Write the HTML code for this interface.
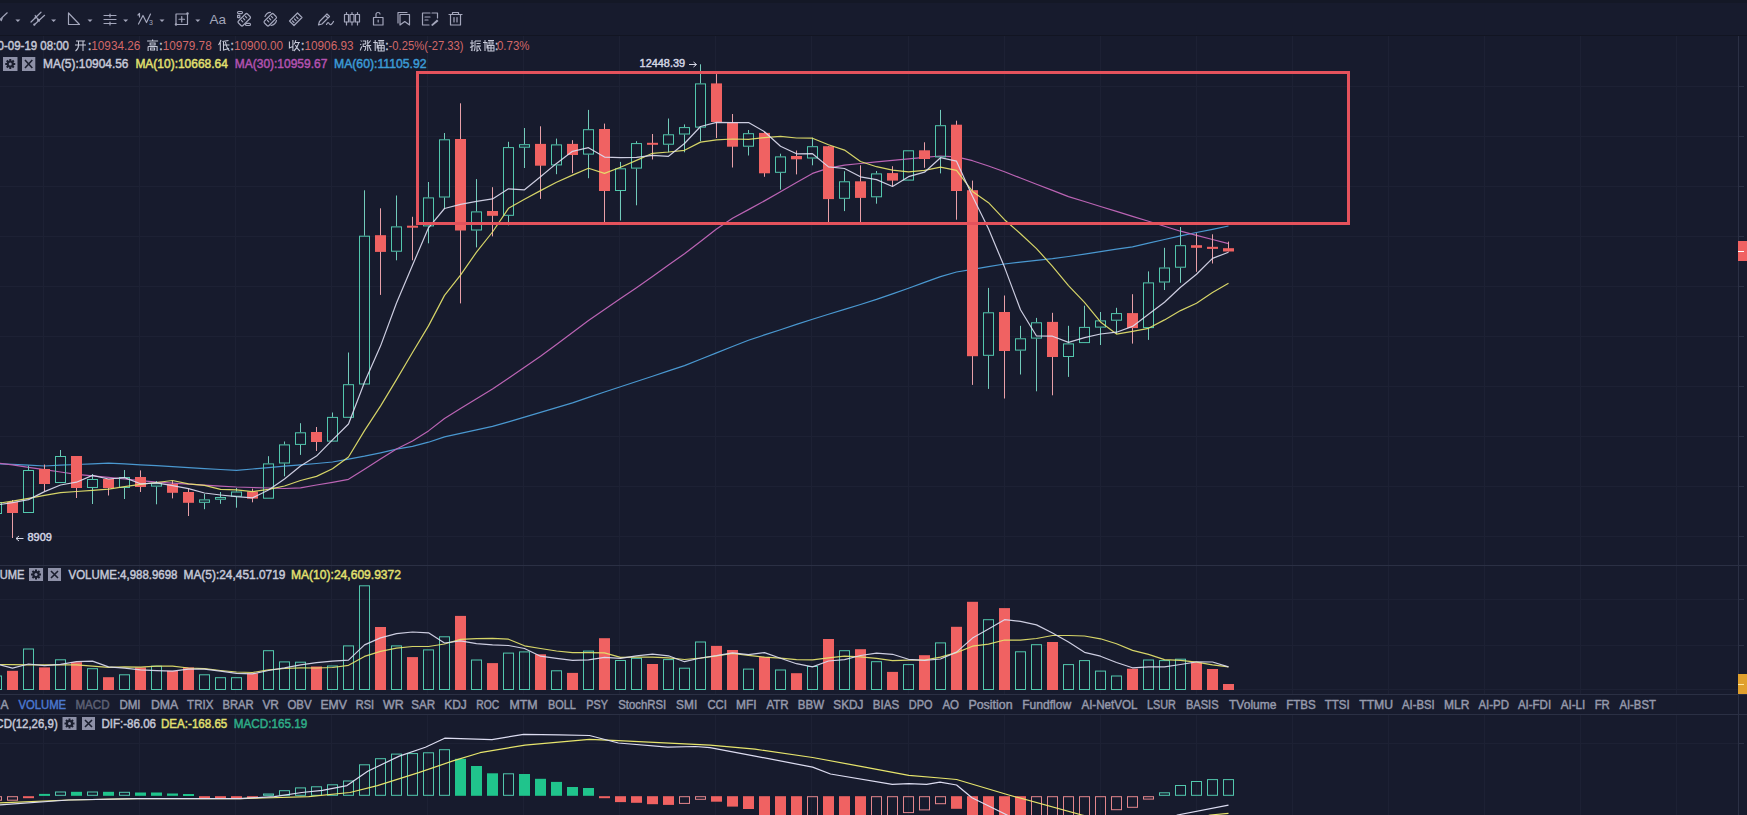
<!DOCTYPE html>
<html><head><meta charset="utf-8"><style>
html,body{margin:0;padding:0;background:#171b2d;}
body{width:1747px;height:815px;overflow:hidden;position:relative;font-family:"Liberation Sans",sans-serif;}
.t{position:absolute;white-space:nowrap;font-size:12px;line-height:14px;}
</style></head><body>
<svg width="1747" height="815" viewBox="0 0 1747 815" style="position:absolute;left:0;top:0">
<rect width="1747" height="815" fill="#171b2d"/>
<rect x="0" y="0" width="1747" height="3" fill="#141826"/>
<rect x="0" y="35" width="1747" height="1" fill="#121522"/>
<line x1="43.5" y1="36" x2="43.5" y2="694" stroke="#1d2134" stroke-width="1"/>
<line x1="43.5" y1="714" x2="43.5" y2="815" stroke="#1d2134" stroke-width="1"/>
<line x1="139.5" y1="36" x2="139.5" y2="694" stroke="#1d2134" stroke-width="1"/>
<line x1="139.5" y1="714" x2="139.5" y2="815" stroke="#1d2134" stroke-width="1"/>
<line x1="235.5" y1="36" x2="235.5" y2="694" stroke="#1d2134" stroke-width="1"/>
<line x1="235.5" y1="714" x2="235.5" y2="815" stroke="#1d2134" stroke-width="1"/>
<line x1="331.5" y1="36" x2="331.5" y2="694" stroke="#1d2134" stroke-width="1"/>
<line x1="331.5" y1="714" x2="331.5" y2="815" stroke="#1d2134" stroke-width="1"/>
<line x1="427.5" y1="36" x2="427.5" y2="694" stroke="#1d2134" stroke-width="1"/>
<line x1="427.5" y1="714" x2="427.5" y2="815" stroke="#1d2134" stroke-width="1"/>
<line x1="523.5" y1="36" x2="523.5" y2="694" stroke="#1d2134" stroke-width="1"/>
<line x1="523.5" y1="714" x2="523.5" y2="815" stroke="#1d2134" stroke-width="1"/>
<line x1="619.5" y1="36" x2="619.5" y2="694" stroke="#1d2134" stroke-width="1"/>
<line x1="619.5" y1="714" x2="619.5" y2="815" stroke="#1d2134" stroke-width="1"/>
<line x1="715.5" y1="36" x2="715.5" y2="694" stroke="#1d2134" stroke-width="1"/>
<line x1="715.5" y1="714" x2="715.5" y2="815" stroke="#1d2134" stroke-width="1"/>
<line x1="811.5" y1="36" x2="811.5" y2="694" stroke="#1d2134" stroke-width="1"/>
<line x1="811.5" y1="714" x2="811.5" y2="815" stroke="#1d2134" stroke-width="1"/>
<line x1="908.5" y1="36" x2="908.5" y2="694" stroke="#1d2134" stroke-width="1"/>
<line x1="908.5" y1="714" x2="908.5" y2="815" stroke="#1d2134" stroke-width="1"/>
<line x1="1004.5" y1="36" x2="1004.5" y2="694" stroke="#1d2134" stroke-width="1"/>
<line x1="1004.5" y1="714" x2="1004.5" y2="815" stroke="#1d2134" stroke-width="1"/>
<line x1="1100.5" y1="36" x2="1100.5" y2="694" stroke="#1d2134" stroke-width="1"/>
<line x1="1100.5" y1="714" x2="1100.5" y2="815" stroke="#1d2134" stroke-width="1"/>
<line x1="1196.5" y1="36" x2="1196.5" y2="694" stroke="#1d2134" stroke-width="1"/>
<line x1="1196.5" y1="714" x2="1196.5" y2="815" stroke="#1d2134" stroke-width="1"/>
<line x1="1292.5" y1="36" x2="1292.5" y2="694" stroke="#1d2134" stroke-width="1"/>
<line x1="1292.5" y1="714" x2="1292.5" y2="815" stroke="#1d2134" stroke-width="1"/>
<line x1="1388.5" y1="36" x2="1388.5" y2="694" stroke="#1d2134" stroke-width="1"/>
<line x1="1388.5" y1="714" x2="1388.5" y2="815" stroke="#1d2134" stroke-width="1"/>
<line x1="1484.5" y1="36" x2="1484.5" y2="694" stroke="#1d2134" stroke-width="1"/>
<line x1="1484.5" y1="714" x2="1484.5" y2="815" stroke="#1d2134" stroke-width="1"/>
<line x1="1580.5" y1="36" x2="1580.5" y2="694" stroke="#1d2134" stroke-width="1"/>
<line x1="1580.5" y1="714" x2="1580.5" y2="815" stroke="#1d2134" stroke-width="1"/>
<line x1="1676.5" y1="36" x2="1676.5" y2="694" stroke="#1d2134" stroke-width="1"/>
<line x1="1676.5" y1="714" x2="1676.5" y2="815" stroke="#1d2134" stroke-width="1"/>
<line x1="0" y1="86.5" x2="1738" y2="86.5" stroke="#1d2134" stroke-width="1"/>
<line x1="0" y1="136.5" x2="1738" y2="136.5" stroke="#1d2134" stroke-width="1"/>
<line x1="0" y1="186.5" x2="1738" y2="186.5" stroke="#1d2134" stroke-width="1"/>
<line x1="0" y1="236.5" x2="1738" y2="236.5" stroke="#1d2134" stroke-width="1"/>
<line x1="0" y1="286.5" x2="1738" y2="286.5" stroke="#1d2134" stroke-width="1"/>
<line x1="0" y1="336.5" x2="1738" y2="336.5" stroke="#1d2134" stroke-width="1"/>
<line x1="0" y1="386.5" x2="1738" y2="386.5" stroke="#1d2134" stroke-width="1"/>
<line x1="0" y1="436.5" x2="1738" y2="436.5" stroke="#1d2134" stroke-width="1"/>
<line x1="0" y1="486.5" x2="1738" y2="486.5" stroke="#1d2134" stroke-width="1"/>
<line x1="0" y1="536.5" x2="1738" y2="536.5" stroke="#1d2134" stroke-width="1"/>
<line x1="0" y1="599.5" x2="1738" y2="599.5" stroke="#1d2134" stroke-width="1"/>
<line x1="0" y1="645.5" x2="1738" y2="645.5" stroke="#1d2134" stroke-width="1"/>
<line x1="0" y1="689.5" x2="1738" y2="689.5" stroke="#1d2134" stroke-width="1"/>
<line x1="0" y1="743.5" x2="1738" y2="743.5" stroke="#1d2134" stroke-width="1"/>
<line x1="0" y1="565.5" x2="1747" y2="565.5" stroke="#2b3044" stroke-width="1"/>
<line x1="0" y1="694.5" x2="1747" y2="694.5" stroke="#2b3044" stroke-width="1"/>
<line x1="0" y1="714.5" x2="1747" y2="714.5" stroke="#2b3044" stroke-width="1"/>
<line x1="1738.5" y1="36" x2="1738.5" y2="815" stroke="#2b3044" stroke-width="1"/>
<line x1="1738" y1="86.5" x2="1744" y2="86.5" stroke="#2b3044" stroke-width="1"/>
<line x1="1738" y1="136.5" x2="1744" y2="136.5" stroke="#2b3044" stroke-width="1"/>
<line x1="1738" y1="186.5" x2="1744" y2="186.5" stroke="#2b3044" stroke-width="1"/>
<line x1="1738" y1="236.5" x2="1744" y2="236.5" stroke="#2b3044" stroke-width="1"/>
<line x1="1738" y1="286.5" x2="1744" y2="286.5" stroke="#2b3044" stroke-width="1"/>
<line x1="1738" y1="336.5" x2="1744" y2="336.5" stroke="#2b3044" stroke-width="1"/>
<line x1="1738" y1="386.5" x2="1744" y2="386.5" stroke="#2b3044" stroke-width="1"/>
<line x1="1738" y1="436.5" x2="1744" y2="436.5" stroke="#2b3044" stroke-width="1"/>
<line x1="1738" y1="486.5" x2="1744" y2="486.5" stroke="#2b3044" stroke-width="1"/>
<line x1="1738" y1="536.5" x2="1744" y2="536.5" stroke="#2b3044" stroke-width="1"/>
<line x1="1738" y1="599.5" x2="1744" y2="599.5" stroke="#2b3044" stroke-width="1"/>
<line x1="1738" y1="645.5" x2="1744" y2="645.5" stroke="#2b3044" stroke-width="1"/>
<line x1="1738" y1="743.5" x2="1744" y2="743.5" stroke="#2b3044" stroke-width="1"/>
<defs><clipPath id="cm"><rect x="0" y="36" width="1738" height="529"/></clipPath><clipPath id="cv"><rect x="0" y="566" width="1738" height="128"/></clipPath><clipPath id="cd"><rect x="0" y="715" width="1738" height="100"/></clipPath></defs>
<g clip-path="url(#cm)">
<polyline points="-3.5,463.7 12.5,464.4 28.5,465.2 44.5,466.0 60.5,465.2 76.5,464.5 92.5,463.8 108.5,463.1 124.5,463.9 140.5,464.8 156.5,465.7 172.5,466.7 188.5,467.6 204.5,468.6 220.5,469.5 236.5,470.3 252.5,469.0 268.5,467.6 284.5,466.2 300.5,464.9 316.5,463.5 332.5,462.0 348.5,459.1 364.5,456.2 380.5,452.8 396.5,449.2 412.5,446.3 428.5,442.2 444.5,436.9 460.5,433.3 476.5,429.8 492.5,426.3 508.5,421.8 524.5,417.1 540.5,412.4 556.5,407.7 572.5,402.9 588.5,397.4 604.5,392.0 620.5,386.8 636.5,381.5 652.5,376.2 668.5,370.9 684.5,365.6 700.5,359.2 716.5,352.9 732.5,346.5 748.5,340.2 764.5,334.9 780.5,329.7 796.5,324.4 812.5,319.2 828.5,314.3 844.5,309.4 860.5,304.5 876.5,299.4 892.5,293.9 908.5,288.2 924.5,282.4 940.5,276.6 956.5,272.0 972.5,269.3 988.5,266.7 1004.5,264.0 1020.5,262.1 1036.5,260.3 1052.5,258.6 1068.5,256.5 1084.5,254.1 1100.5,251.6 1116.5,249.2 1132.5,246.8 1148.5,243.2 1164.5,239.5 1180.5,235.8 1196.5,232.5 1212.5,229.3 1228.5,226.0" fill="none" stroke="#4a98d0" stroke-width="1.2" stroke-opacity="1" stroke-linejoin="round"/>
<polyline points="-3.5,463.0 12.5,464.9 28.5,467.3 44.5,469.7 60.5,472.0 76.5,474.3 92.5,475.9 108.5,477.4 124.5,479.0 140.5,480.6 156.5,482.1 172.5,483.1 188.5,484.1 204.5,485.1 220.5,486.1 236.5,487.0 252.5,487.5 268.5,488.0 284.5,488.5 300.5,487.8 316.5,485.0 332.5,482.3 348.5,479.3 364.5,469.2 380.5,459.1 396.5,449.0 412.5,441.0 428.5,430.9 444.5,418.5 460.5,408.6 476.5,398.7 492.5,388.9 508.5,378.2 524.5,367.2 540.5,356.3 556.5,344.5 572.5,332.5 588.5,320.5 604.5,309.6 620.5,298.6 636.5,287.7 652.5,276.4 668.5,265.0 684.5,253.7 700.5,241.4 716.5,229.0 732.5,218.3 748.5,209.6 764.5,200.9 780.5,191.8 796.5,182.6 812.5,173.4 828.5,168.1 844.5,165.1 860.5,163.5 876.5,161.9 892.5,160.3 908.5,158.8 924.5,157.3 940.5,156.0 956.5,156.8 972.5,160.7 988.5,166.0 1004.5,171.8 1020.5,178.0 1036.5,184.2 1052.5,190.4 1068.5,196.6 1084.5,201.5 1100.5,206.5 1116.5,211.4 1132.5,216.4 1148.5,221.3 1164.5,226.3 1180.5,231.2 1196.5,235.3 1212.5,239.5 1228.5,243.6" fill="none" stroke="#bb64b4" stroke-width="1.2" stroke-opacity="1" stroke-linejoin="round"/>
<rect x="-8.5" y="502.5" width="10" height="11.0" fill="none" stroke="#52c7ad" stroke-width="1"/>
<line x1="12.5" y1="500.0" x2="12.5" y2="538.0" stroke="#e8a0a8" stroke-width="1"/>
<rect x="7.0" y="502.0" width="11" height="11.0" fill="#f06262"/>
<line x1="28.5" y1="465.7" x2="28.5" y2="470.0" stroke="#72cbbb" stroke-width="1"/>
<rect x="23.5" y="470.5" width="10" height="42.0" fill="none" stroke="#52c7ad" stroke-width="1"/>
<line x1="44.5" y1="464.5" x2="44.5" y2="491.0" stroke="#e8a0a8" stroke-width="1"/>
<rect x="39.0" y="469.0" width="11" height="15.0" fill="#f06262"/>
<line x1="60.5" y1="450.0" x2="60.5" y2="456.0" stroke="#72cbbb" stroke-width="1"/>
<rect x="55.5" y="456.5" width="10" height="26.0" fill="none" stroke="#52c7ad" stroke-width="1"/>
<line x1="76.5" y1="456.0" x2="76.5" y2="498.0" stroke="#e8a0a8" stroke-width="1"/>
<rect x="71.0" y="456.0" width="11" height="32.0" fill="#f06262"/>
<line x1="92.5" y1="474.0" x2="92.5" y2="479.0" stroke="#72cbbb" stroke-width="1"/>
<line x1="92.5" y1="488.0" x2="92.5" y2="504.0" stroke="#72cbbb" stroke-width="1"/>
<rect x="87.5" y="479.5" width="10" height="8.0" fill="none" stroke="#52c7ad" stroke-width="1"/>
<line x1="108.5" y1="479.0" x2="108.5" y2="495.5" stroke="#e8a0a8" stroke-width="1"/>
<rect x="103.0" y="479.0" width="11" height="9.0" fill="#f06262"/>
<line x1="124.5" y1="470.0" x2="124.5" y2="477.0" stroke="#72cbbb" stroke-width="1"/>
<line x1="124.5" y1="488.0" x2="124.5" y2="499.0" stroke="#72cbbb" stroke-width="1"/>
<rect x="119.5" y="477.5" width="10" height="10.0" fill="none" stroke="#52c7ad" stroke-width="1"/>
<line x1="140.5" y1="470.4" x2="140.5" y2="492.0" stroke="#e8a0a8" stroke-width="1"/>
<rect x="135.0" y="477.0" width="11" height="10.0" fill="#f06262"/>
<line x1="156.5" y1="481.0" x2="156.5" y2="483.2" stroke="#72cbbb" stroke-width="1"/>
<line x1="156.5" y1="486.6" x2="156.5" y2="504.3" stroke="#72cbbb" stroke-width="1"/>
<rect x="151.5" y="483.7" width="10" height="2.4" fill="none" stroke="#52c7ad" stroke-width="1"/>
<line x1="172.5" y1="481.0" x2="172.5" y2="498.4" stroke="#e8a0a8" stroke-width="1"/>
<rect x="167.0" y="484.0" width="11" height="8.8" fill="#f06262"/>
<line x1="188.5" y1="488.6" x2="188.5" y2="516.0" stroke="#e8a0a8" stroke-width="1"/>
<rect x="183.0" y="492.0" width="11" height="10.8" fill="#f06262"/>
<line x1="204.5" y1="494.0" x2="204.5" y2="499.4" stroke="#72cbbb" stroke-width="1"/>
<line x1="204.5" y1="502.8" x2="204.5" y2="509.2" stroke="#72cbbb" stroke-width="1"/>
<rect x="199.5" y="499.9" width="10" height="2.4" fill="none" stroke="#52c7ad" stroke-width="1"/>
<line x1="220.5" y1="492.0" x2="220.5" y2="497.0" stroke="#72cbbb" stroke-width="1"/>
<line x1="220.5" y1="499.7" x2="220.5" y2="503.8" stroke="#72cbbb" stroke-width="1"/>
<rect x="215.5" y="497.5" width="10" height="1.7" fill="none" stroke="#52c7ad" stroke-width="1"/>
<line x1="236.5" y1="488.0" x2="236.5" y2="491.5" stroke="#72cbbb" stroke-width="1"/>
<line x1="236.5" y1="496.7" x2="236.5" y2="507.7" stroke="#72cbbb" stroke-width="1"/>
<rect x="231.5" y="492.0" width="10" height="4.2" fill="none" stroke="#52c7ad" stroke-width="1"/>
<line x1="252.5" y1="488.6" x2="252.5" y2="502.3" stroke="#e8a0a8" stroke-width="1"/>
<rect x="247.0" y="491.5" width="11" height="7.1" fill="#f06262"/>
<line x1="268.5" y1="456.2" x2="268.5" y2="463.4" stroke="#72cbbb" stroke-width="1"/>
<rect x="263.5" y="463.9" width="10" height="34.3" fill="none" stroke="#52c7ad" stroke-width="1"/>
<line x1="284.5" y1="441.5" x2="284.5" y2="444.4" stroke="#72cbbb" stroke-width="1"/>
<line x1="284.5" y1="463.5" x2="284.5" y2="476.3" stroke="#72cbbb" stroke-width="1"/>
<rect x="279.5" y="444.9" width="10" height="18.1" fill="none" stroke="#52c7ad" stroke-width="1"/>
<line x1="300.5" y1="423.2" x2="300.5" y2="432.3" stroke="#72cbbb" stroke-width="1"/>
<line x1="300.5" y1="444.9" x2="300.5" y2="454.9" stroke="#72cbbb" stroke-width="1"/>
<rect x="295.5" y="432.8" width="10" height="11.6" fill="none" stroke="#52c7ad" stroke-width="1"/>
<line x1="316.5" y1="427.0" x2="316.5" y2="451.0" stroke="#e8a0a8" stroke-width="1"/>
<rect x="311.0" y="432.0" width="11" height="10.0" fill="#f06262"/>
<line x1="332.5" y1="412.5" x2="332.5" y2="416.9" stroke="#72cbbb" stroke-width="1"/>
<rect x="327.5" y="417.4" width="10" height="23.7" fill="none" stroke="#52c7ad" stroke-width="1"/>
<line x1="348.5" y1="352.5" x2="348.5" y2="384.2" stroke="#72cbbb" stroke-width="1"/>
<rect x="343.5" y="384.7" width="10" height="32.6" fill="none" stroke="#52c7ad" stroke-width="1"/>
<line x1="364.5" y1="190.3" x2="364.5" y2="235.7" stroke="#72cbbb" stroke-width="1"/>
<rect x="359.5" y="236.2" width="10" height="147.8" fill="none" stroke="#52c7ad" stroke-width="1"/>
<line x1="380.5" y1="208.3" x2="380.5" y2="294.9" stroke="#e8a0a8" stroke-width="1"/>
<rect x="375.0" y="235.2" width="11" height="16.7" fill="#f06262"/>
<line x1="396.5" y1="195.5" x2="396.5" y2="226.4" stroke="#72cbbb" stroke-width="1"/>
<line x1="396.5" y1="251.7" x2="396.5" y2="260.3" stroke="#72cbbb" stroke-width="1"/>
<rect x="391.5" y="226.9" width="10" height="24.3" fill="none" stroke="#52c7ad" stroke-width="1"/>
<line x1="412.5" y1="216.8" x2="412.5" y2="260.3" stroke="#e8a0a8" stroke-width="1"/>
<rect x="407.0" y="225.7" width="11" height="2.0" fill="#f06262"/>
<line x1="428.5" y1="182.0" x2="428.5" y2="197.4" stroke="#72cbbb" stroke-width="1"/>
<line x1="428.5" y1="226.4" x2="428.5" y2="243.3" stroke="#72cbbb" stroke-width="1"/>
<rect x="423.5" y="197.9" width="10" height="28.0" fill="none" stroke="#52c7ad" stroke-width="1"/>
<line x1="444.5" y1="133.0" x2="444.5" y2="139.3" stroke="#72cbbb" stroke-width="1"/>
<line x1="444.5" y1="197.5" x2="444.5" y2="209.0" stroke="#72cbbb" stroke-width="1"/>
<rect x="439.5" y="139.8" width="10" height="57.2" fill="none" stroke="#52c7ad" stroke-width="1"/>
<line x1="460.5" y1="103.3" x2="460.5" y2="303.4" stroke="#e8a0a8" stroke-width="1"/>
<rect x="455.0" y="139.0" width="11" height="91.5" fill="#f06262"/>
<line x1="476.5" y1="179.1" x2="476.5" y2="211.4" stroke="#72cbbb" stroke-width="1"/>
<line x1="476.5" y1="230.5" x2="476.5" y2="247.4" stroke="#72cbbb" stroke-width="1"/>
<rect x="471.5" y="211.9" width="10" height="18.1" fill="none" stroke="#52c7ad" stroke-width="1"/>
<line x1="492.5" y1="187.2" x2="492.5" y2="236.4" stroke="#e8a0a8" stroke-width="1"/>
<rect x="487.0" y="211.0" width="11" height="4.8" fill="#f06262"/>
<line x1="508.5" y1="141.8" x2="508.5" y2="147.1" stroke="#72cbbb" stroke-width="1"/>
<line x1="508.5" y1="215.8" x2="508.5" y2="225.3" stroke="#72cbbb" stroke-width="1"/>
<rect x="503.5" y="147.6" width="10" height="67.7" fill="none" stroke="#52c7ad" stroke-width="1"/>
<line x1="524.5" y1="128.0" x2="524.5" y2="144.2" stroke="#72cbbb" stroke-width="1"/>
<line x1="524.5" y1="147.7" x2="524.5" y2="168.0" stroke="#72cbbb" stroke-width="1"/>
<rect x="519.5" y="144.7" width="10" height="2.5" fill="none" stroke="#52c7ad" stroke-width="1"/>
<line x1="540.5" y1="126.3" x2="540.5" y2="198.9" stroke="#e8a0a8" stroke-width="1"/>
<rect x="535.0" y="143.9" width="11" height="21.8" fill="#f06262"/>
<line x1="556.5" y1="138.6" x2="556.5" y2="144.4" stroke="#72cbbb" stroke-width="1"/>
<line x1="556.5" y1="165.4" x2="556.5" y2="174.2" stroke="#72cbbb" stroke-width="1"/>
<rect x="551.5" y="144.9" width="10" height="20.0" fill="none" stroke="#52c7ad" stroke-width="1"/>
<line x1="572.5" y1="140.2" x2="572.5" y2="173.1" stroke="#e8a0a8" stroke-width="1"/>
<rect x="567.0" y="143.9" width="11" height="11.1" fill="#f06262"/>
<line x1="588.5" y1="109.9" x2="588.5" y2="129.2" stroke="#72cbbb" stroke-width="1"/>
<line x1="588.5" y1="154.6" x2="588.5" y2="178.2" stroke="#72cbbb" stroke-width="1"/>
<rect x="583.5" y="129.7" width="10" height="24.4" fill="none" stroke="#52c7ad" stroke-width="1"/>
<line x1="604.5" y1="123.6" x2="604.5" y2="222.0" stroke="#e8a0a8" stroke-width="1"/>
<rect x="599.0" y="129.0" width="11" height="62.0" fill="#f06262"/>
<line x1="620.5" y1="161.9" x2="620.5" y2="168.3" stroke="#72cbbb" stroke-width="1"/>
<line x1="620.5" y1="191.0" x2="620.5" y2="220.5" stroke="#72cbbb" stroke-width="1"/>
<rect x="615.5" y="168.8" width="10" height="21.7" fill="none" stroke="#52c7ad" stroke-width="1"/>
<line x1="636.5" y1="141.2" x2="636.5" y2="143.1" stroke="#72cbbb" stroke-width="1"/>
<line x1="636.5" y1="168.6" x2="636.5" y2="205.3" stroke="#72cbbb" stroke-width="1"/>
<rect x="631.5" y="143.6" width="10" height="24.5" fill="none" stroke="#52c7ad" stroke-width="1"/>
<line x1="652.5" y1="134.0" x2="652.5" y2="159.5" stroke="#e8a0a8" stroke-width="1"/>
<rect x="647.0" y="142.8" width="11" height="2.0" fill="#f06262"/>
<line x1="668.5" y1="118.5" x2="668.5" y2="134.3" stroke="#72cbbb" stroke-width="1"/>
<line x1="668.5" y1="144.7" x2="668.5" y2="152.3" stroke="#72cbbb" stroke-width="1"/>
<rect x="663.5" y="134.8" width="10" height="9.4" fill="none" stroke="#52c7ad" stroke-width="1"/>
<line x1="684.5" y1="124.4" x2="684.5" y2="127.1" stroke="#72cbbb" stroke-width="1"/>
<line x1="684.5" y1="134.5" x2="684.5" y2="152.3" stroke="#72cbbb" stroke-width="1"/>
<rect x="679.5" y="127.6" width="10" height="6.4" fill="none" stroke="#52c7ad" stroke-width="1"/>
<line x1="700.5" y1="64.3" x2="700.5" y2="83.4" stroke="#72cbbb" stroke-width="1"/>
<line x1="700.5" y1="127.6" x2="700.5" y2="141.2" stroke="#72cbbb" stroke-width="1"/>
<rect x="695.5" y="83.9" width="10" height="43.2" fill="none" stroke="#52c7ad" stroke-width="1"/>
<line x1="716.5" y1="74.1" x2="716.5" y2="138.0" stroke="#e8a0a8" stroke-width="1"/>
<rect x="711.0" y="83.4" width="11" height="38.6" fill="#f06262"/>
<line x1="732.5" y1="114.0" x2="732.5" y2="167.5" stroke="#e8a0a8" stroke-width="1"/>
<rect x="727.0" y="122.8" width="11" height="23.9" fill="#f06262"/>
<line x1="748.5" y1="130.0" x2="748.5" y2="133.2" stroke="#72cbbb" stroke-width="1"/>
<line x1="748.5" y1="146.7" x2="748.5" y2="155.5" stroke="#72cbbb" stroke-width="1"/>
<rect x="743.5" y="133.7" width="10" height="12.5" fill="none" stroke="#52c7ad" stroke-width="1"/>
<line x1="764.5" y1="132.0" x2="764.5" y2="176.8" stroke="#e8a0a8" stroke-width="1"/>
<rect x="759.0" y="132.9" width="11" height="40.4" fill="#f06262"/>
<line x1="780.5" y1="153.7" x2="780.5" y2="156.4" stroke="#72cbbb" stroke-width="1"/>
<line x1="780.5" y1="172.8" x2="780.5" y2="189.6" stroke="#72cbbb" stroke-width="1"/>
<rect x="775.5" y="156.9" width="10" height="15.4" fill="none" stroke="#52c7ad" stroke-width="1"/>
<line x1="796.5" y1="150.5" x2="796.5" y2="174.4" stroke="#e8a0a8" stroke-width="1"/>
<rect x="791.0" y="156.0" width="11" height="3.3" fill="#f06262"/>
<line x1="812.5" y1="137.7" x2="812.5" y2="146.2" stroke="#72cbbb" stroke-width="1"/>
<line x1="812.5" y1="158.5" x2="812.5" y2="165.3" stroke="#72cbbb" stroke-width="1"/>
<rect x="807.5" y="146.7" width="10" height="11.3" fill="none" stroke="#52c7ad" stroke-width="1"/>
<line x1="828.5" y1="146.0" x2="828.5" y2="222.3" stroke="#e8a0a8" stroke-width="1"/>
<rect x="823.0" y="146.2" width="11" height="52.9" fill="#f06262"/>
<line x1="844.5" y1="171.2" x2="844.5" y2="181.3" stroke="#72cbbb" stroke-width="1"/>
<line x1="844.5" y1="198.8" x2="844.5" y2="211.1" stroke="#72cbbb" stroke-width="1"/>
<rect x="839.5" y="181.8" width="10" height="16.5" fill="none" stroke="#52c7ad" stroke-width="1"/>
<line x1="860.5" y1="165.3" x2="860.5" y2="222.3" stroke="#e8a0a8" stroke-width="1"/>
<rect x="855.0" y="181.3" width="11" height="16.6" fill="#f06262"/>
<line x1="876.5" y1="171.0" x2="876.5" y2="173.4" stroke="#72cbbb" stroke-width="1"/>
<line x1="876.5" y1="197.3" x2="876.5" y2="203.7" stroke="#72cbbb" stroke-width="1"/>
<rect x="871.5" y="173.9" width="10" height="22.9" fill="none" stroke="#52c7ad" stroke-width="1"/>
<line x1="892.5" y1="166.2" x2="892.5" y2="186.2" stroke="#e8a0a8" stroke-width="1"/>
<rect x="887.0" y="173.1" width="11" height="7.5" fill="#f06262"/>
<rect x="903.5" y="150.8" width="10" height="29.3" fill="none" stroke="#52c7ad" stroke-width="1"/>
<line x1="924.5" y1="142.3" x2="924.5" y2="167.8" stroke="#e8a0a8" stroke-width="1"/>
<rect x="919.0" y="150.3" width="11" height="8.7" fill="#f06262"/>
<line x1="940.5" y1="109.9" x2="940.5" y2="125.2" stroke="#72cbbb" stroke-width="1"/>
<line x1="940.5" y1="157.4" x2="940.5" y2="173.4" stroke="#72cbbb" stroke-width="1"/>
<rect x="935.5" y="125.7" width="10" height="31.2" fill="none" stroke="#52c7ad" stroke-width="1"/>
<line x1="956.5" y1="120.7" x2="956.5" y2="219.7" stroke="#e8a0a8" stroke-width="1"/>
<rect x="951.0" y="124.7" width="11" height="66.3" fill="#f06262"/>
<line x1="972.5" y1="180.6" x2="972.5" y2="384.9" stroke="#e8a0a8" stroke-width="1"/>
<rect x="967.0" y="190.2" width="11" height="166.0" fill="#f06262"/>
<line x1="988.5" y1="287.9" x2="988.5" y2="312.3" stroke="#72cbbb" stroke-width="1"/>
<line x1="988.5" y1="355.8" x2="988.5" y2="388.9" stroke="#72cbbb" stroke-width="1"/>
<rect x="983.5" y="312.8" width="10" height="42.5" fill="none" stroke="#52c7ad" stroke-width="1"/>
<line x1="1004.5" y1="295.5" x2="1004.5" y2="398.5" stroke="#e8a0a8" stroke-width="1"/>
<rect x="999.0" y="312.0" width="11" height="39.0" fill="#f06262"/>
<line x1="1020.5" y1="325.8" x2="1020.5" y2="338.3" stroke="#72cbbb" stroke-width="1"/>
<line x1="1020.5" y1="350.6" x2="1020.5" y2="374.5" stroke="#72cbbb" stroke-width="1"/>
<rect x="1015.5" y="338.8" width="10" height="11.3" fill="none" stroke="#52c7ad" stroke-width="1"/>
<line x1="1036.5" y1="317.9" x2="1036.5" y2="322.3" stroke="#72cbbb" stroke-width="1"/>
<line x1="1036.5" y1="338.6" x2="1036.5" y2="391.3" stroke="#72cbbb" stroke-width="1"/>
<rect x="1031.5" y="322.8" width="10" height="15.3" fill="none" stroke="#52c7ad" stroke-width="1"/>
<line x1="1052.5" y1="312.8" x2="1052.5" y2="395.3" stroke="#e8a0a8" stroke-width="1"/>
<rect x="1047.0" y="321.9" width="11" height="35.1" fill="#f06262"/>
<line x1="1068.5" y1="325.8" x2="1068.5" y2="343.4" stroke="#72cbbb" stroke-width="1"/>
<line x1="1068.5" y1="357.0" x2="1068.5" y2="376.9" stroke="#72cbbb" stroke-width="1"/>
<rect x="1063.5" y="343.9" width="10" height="12.6" fill="none" stroke="#52c7ad" stroke-width="1"/>
<line x1="1084.5" y1="305.7" x2="1084.5" y2="326.9" stroke="#72cbbb" stroke-width="1"/>
<rect x="1079.5" y="327.4" width="10" height="15.2" fill="none" stroke="#52c7ad" stroke-width="1"/>
<line x1="1100.5" y1="312.0" x2="1100.5" y2="320.4" stroke="#72cbbb" stroke-width="1"/>
<line x1="1100.5" y1="327.6" x2="1100.5" y2="345.0" stroke="#72cbbb" stroke-width="1"/>
<rect x="1095.5" y="320.9" width="10" height="6.2" fill="none" stroke="#52c7ad" stroke-width="1"/>
<line x1="1116.5" y1="307.8" x2="1116.5" y2="313.1" stroke="#72cbbb" stroke-width="1"/>
<line x1="1116.5" y1="320.7" x2="1116.5" y2="334.0" stroke="#72cbbb" stroke-width="1"/>
<rect x="1111.5" y="313.6" width="10" height="6.6" fill="none" stroke="#52c7ad" stroke-width="1"/>
<line x1="1132.5" y1="294.2" x2="1132.5" y2="343.6" stroke="#e8a0a8" stroke-width="1"/>
<rect x="1127.0" y="313.1" width="11" height="15.0" fill="#f06262"/>
<line x1="1148.5" y1="271.4" x2="1148.5" y2="282.4" stroke="#72cbbb" stroke-width="1"/>
<line x1="1148.5" y1="328.1" x2="1148.5" y2="339.9" stroke="#72cbbb" stroke-width="1"/>
<rect x="1143.5" y="282.9" width="10" height="44.7" fill="none" stroke="#52c7ad" stroke-width="1"/>
<line x1="1164.5" y1="247.8" x2="1164.5" y2="267.5" stroke="#72cbbb" stroke-width="1"/>
<line x1="1164.5" y1="282.5" x2="1164.5" y2="290.0" stroke="#72cbbb" stroke-width="1"/>
<rect x="1159.5" y="268.0" width="10" height="14.0" fill="none" stroke="#52c7ad" stroke-width="1"/>
<line x1="1180.5" y1="227.0" x2="1180.5" y2="245.2" stroke="#72cbbb" stroke-width="1"/>
<line x1="1180.5" y1="267.7" x2="1180.5" y2="282.8" stroke="#72cbbb" stroke-width="1"/>
<rect x="1175.5" y="245.7" width="10" height="21.5" fill="none" stroke="#52c7ad" stroke-width="1"/>
<line x1="1196.5" y1="233.2" x2="1196.5" y2="271.8" stroke="#e8a0a8" stroke-width="1"/>
<rect x="1191.0" y="245.2" width="11" height="2.6" fill="#f06262"/>
<line x1="1212.5" y1="234.3" x2="1212.5" y2="263.5" stroke="#e8a0a8" stroke-width="1"/>
<rect x="1207.0" y="246.8" width="11" height="2.1" fill="#f06262"/>
<line x1="1228.5" y1="241.6" x2="1228.5" y2="251.5" stroke="#e8a0a8" stroke-width="1"/>
<rect x="1223.0" y="248.2" width="11" height="3.3" fill="#f06262"/>
<polyline points="-3.5,503.5 12.5,501.2 28.5,498.3 44.5,495.4 60.5,492.6 76.5,491.5 92.5,490.4 108.5,489.2 124.5,486.7 140.5,484.4 156.5,482.5 172.5,480.5 188.5,483.8 204.5,485.3 220.5,489.4 236.5,489.8 252.5,491.7 268.5,489.3 284.5,486.0 300.5,480.5 316.5,476.4 332.5,468.8 348.5,457.0 364.5,430.6 380.5,406.1 396.5,379.6 412.5,352.5 428.5,325.9 444.5,295.4 460.5,275.2 476.5,252.1 492.5,232.0 508.5,208.3 524.5,199.2 540.5,190.6 556.5,182.3 572.5,175.1 588.5,168.3 604.5,173.4 620.5,167.2 636.5,160.4 652.5,153.3 668.5,152.0 684.5,150.3 700.5,142.1 716.5,139.8 732.5,139.0 748.5,139.4 764.5,137.6 780.5,136.4 796.5,138.0 812.5,138.2 828.5,144.7 844.5,150.1 860.5,161.5 876.5,166.7 892.5,170.1 908.5,171.8 924.5,170.3 940.5,167.2 956.5,170.4 972.5,191.4 988.5,202.7 1004.5,219.7 1020.5,233.7 1036.5,248.6 1052.5,266.3 1068.5,285.6 1084.5,302.4 1100.5,321.9 1116.5,334.1 1132.5,331.3 1148.5,328.3 1164.5,319.9 1180.5,310.6 1196.5,303.2 1212.5,292.4 1228.5,283.2" fill="none" stroke="#e6e46c" stroke-width="1.2" stroke-opacity="0.92" stroke-linejoin="round"/>
<polyline points="-3.5,505.0 12.5,502.7 28.5,499.6 44.5,491.6 60.5,485.0 76.5,482.2 92.5,475.4 108.5,479.0 124.5,477.6 140.5,483.8 156.5,482.8 172.5,485.6 188.5,488.6 204.5,493.0 220.5,495.0 236.5,496.7 252.5,497.9 268.5,490.0 284.5,479.0 300.5,466.0 316.5,456.1 332.5,439.8 348.5,424.0 364.5,382.2 380.5,346.1 396.5,303.0 412.5,265.2 428.5,227.8 444.5,208.5 460.5,204.3 476.5,201.3 492.5,198.9 508.5,188.8 524.5,189.8 540.5,176.8 556.5,163.4 572.5,151.3 588.5,147.7 604.5,157.1 620.5,157.6 636.5,157.3 652.5,155.3 668.5,156.3 684.5,143.5 700.5,126.5 716.5,122.3 732.5,122.7 748.5,122.5 764.5,131.7 780.5,146.3 796.5,153.8 812.5,153.7 828.5,166.9 844.5,168.5 860.5,176.8 876.5,179.6 892.5,186.5 908.5,176.7 924.5,172.2 940.5,157.7 956.5,161.2 972.5,196.3 988.5,228.7 1004.5,267.1 1020.5,309.8 1036.5,336.0 1052.5,336.2 1068.5,342.4 1084.5,337.6 1100.5,334.0 1116.5,332.2 1132.5,326.4 1148.5,314.2 1164.5,302.3 1180.5,287.3 1196.5,274.2 1212.5,258.4 1228.5,252.2" fill="none" stroke="#dcdcf0" stroke-width="1.2" stroke-opacity="0.92" stroke-linejoin="round"/>
<rect x="417.5" y="72.5" width="931" height="151" fill="none" stroke="#e4525c" stroke-width="3"/>
</g>
<g clip-path="url(#cv)">
<rect x="-8.5" y="676.0" width="10" height="13.5" fill="none" stroke="#52c7ad" stroke-width="1"/>
<rect x="7.0" y="670.8" width="11" height="19.2" fill="#f06262"/>
<rect x="23.5" y="649.0" width="10" height="40.5" fill="none" stroke="#52c7ad" stroke-width="1"/>
<rect x="39.0" y="667.4" width="11" height="22.6" fill="#f06262"/>
<rect x="55.5" y="659.8" width="10" height="29.7" fill="none" stroke="#52c7ad" stroke-width="1"/>
<rect x="71.0" y="662.2" width="11" height="27.8" fill="#f06262"/>
<rect x="87.5" y="668.7" width="10" height="20.8" fill="none" stroke="#52c7ad" stroke-width="1"/>
<rect x="103.0" y="677.2" width="11" height="12.8" fill="#f06262"/>
<rect x="119.5" y="674.8" width="10" height="14.7" fill="none" stroke="#52c7ad" stroke-width="1"/>
<rect x="135.0" y="667.4" width="11" height="22.6" fill="#f06262"/>
<rect x="151.5" y="666.2" width="10" height="23.3" fill="none" stroke="#52c7ad" stroke-width="1"/>
<rect x="167.0" y="670.8" width="11" height="19.2" fill="#f06262"/>
<rect x="183.0" y="667.4" width="11" height="22.6" fill="#f06262"/>
<rect x="199.5" y="674.8" width="10" height="14.7" fill="none" stroke="#52c7ad" stroke-width="1"/>
<rect x="215.5" y="677.7" width="10" height="11.8" fill="none" stroke="#52c7ad" stroke-width="1"/>
<rect x="231.5" y="677.7" width="10" height="11.8" fill="none" stroke="#52c7ad" stroke-width="1"/>
<rect x="247.0" y="673.4" width="11" height="16.6" fill="#f06262"/>
<rect x="263.5" y="650.7" width="10" height="38.8" fill="none" stroke="#52c7ad" stroke-width="1"/>
<rect x="279.5" y="661.9" width="10" height="27.6" fill="none" stroke="#52c7ad" stroke-width="1"/>
<rect x="295.5" y="662.2" width="10" height="27.3" fill="none" stroke="#52c7ad" stroke-width="1"/>
<rect x="311.0" y="666.5" width="11" height="23.5" fill="#f06262"/>
<rect x="327.5" y="666.0" width="10" height="23.5" fill="none" stroke="#52c7ad" stroke-width="1"/>
<rect x="343.5" y="645.9" width="10" height="43.6" fill="none" stroke="#52c7ad" stroke-width="1"/>
<rect x="359.5" y="585.8" width="10" height="103.7" fill="none" stroke="#52c7ad" stroke-width="1"/>
<rect x="375.0" y="627.0" width="11" height="63.0" fill="#f06262"/>
<rect x="391.5" y="645.9" width="10" height="43.6" fill="none" stroke="#52c7ad" stroke-width="1"/>
<rect x="407.0" y="657.1" width="11" height="32.9" fill="#f06262"/>
<rect x="423.5" y="649.9" width="10" height="39.6" fill="none" stroke="#52c7ad" stroke-width="1"/>
<rect x="439.5" y="636.8" width="10" height="52.7" fill="none" stroke="#52c7ad" stroke-width="1"/>
<rect x="455.0" y="615.9" width="11" height="74.1" fill="#f06262"/>
<rect x="471.5" y="660.0" width="10" height="29.5" fill="none" stroke="#52c7ad" stroke-width="1"/>
<rect x="487.0" y="663.1" width="11" height="26.9" fill="#f06262"/>
<rect x="503.5" y="653.1" width="10" height="36.4" fill="none" stroke="#52c7ad" stroke-width="1"/>
<rect x="519.5" y="651.9" width="10" height="37.6" fill="none" stroke="#52c7ad" stroke-width="1"/>
<rect x="535.0" y="654.3" width="11" height="35.7" fill="#f06262"/>
<rect x="551.5" y="670.8" width="10" height="18.7" fill="none" stroke="#52c7ad" stroke-width="1"/>
<rect x="567.0" y="672.9" width="11" height="17.1" fill="#f06262"/>
<rect x="583.5" y="651.1" width="10" height="38.4" fill="none" stroke="#52c7ad" stroke-width="1"/>
<rect x="599.0" y="638.2" width="11" height="51.8" fill="#f06262"/>
<rect x="615.5" y="660.5" width="10" height="29.0" fill="none" stroke="#52c7ad" stroke-width="1"/>
<rect x="631.5" y="658.3" width="10" height="31.2" fill="none" stroke="#52c7ad" stroke-width="1"/>
<rect x="647.0" y="664.0" width="11" height="26.0" fill="#f06262"/>
<rect x="663.5" y="659.6" width="10" height="29.9" fill="none" stroke="#52c7ad" stroke-width="1"/>
<rect x="679.5" y="668.2" width="10" height="21.3" fill="none" stroke="#52c7ad" stroke-width="1"/>
<rect x="695.5" y="642.0" width="10" height="47.5" fill="none" stroke="#52c7ad" stroke-width="1"/>
<rect x="711.0" y="645.9" width="11" height="44.1" fill="#f06262"/>
<rect x="727.0" y="650.0" width="11" height="40.0" fill="#f06262"/>
<rect x="743.5" y="669.1" width="10" height="20.4" fill="none" stroke="#52c7ad" stroke-width="1"/>
<rect x="759.0" y="657.1" width="11" height="32.9" fill="#f06262"/>
<rect x="775.5" y="670.0" width="10" height="19.5" fill="none" stroke="#52c7ad" stroke-width="1"/>
<rect x="791.0" y="673.2" width="11" height="16.8" fill="#f06262"/>
<rect x="807.5" y="666.5" width="10" height="23.0" fill="none" stroke="#52c7ad" stroke-width="1"/>
<rect x="823.0" y="639.0" width="11" height="51.0" fill="#f06262"/>
<rect x="839.5" y="650.7" width="10" height="38.8" fill="none" stroke="#52c7ad" stroke-width="1"/>
<rect x="855.0" y="649.2" width="11" height="40.8" fill="#f06262"/>
<rect x="871.5" y="661.7" width="10" height="27.8" fill="none" stroke="#52c7ad" stroke-width="1"/>
<rect x="887.0" y="671.9" width="11" height="18.1" fill="#f06262"/>
<rect x="903.5" y="664.6" width="10" height="24.9" fill="none" stroke="#52c7ad" stroke-width="1"/>
<rect x="919.0" y="655.2" width="11" height="34.8" fill="#f06262"/>
<rect x="935.5" y="642.9" width="10" height="46.6" fill="none" stroke="#52c7ad" stroke-width="1"/>
<rect x="951.0" y="626.8" width="11" height="63.2" fill="#f06262"/>
<rect x="967.0" y="601.8" width="11" height="88.2" fill="#f06262"/>
<rect x="983.5" y="619.7" width="10" height="69.8" fill="none" stroke="#52c7ad" stroke-width="1"/>
<rect x="999.0" y="608.1" width="11" height="81.9" fill="#f06262"/>
<rect x="1015.5" y="651.8" width="10" height="37.7" fill="none" stroke="#52c7ad" stroke-width="1"/>
<rect x="1031.5" y="644.7" width="10" height="44.8" fill="none" stroke="#52c7ad" stroke-width="1"/>
<rect x="1047.0" y="642.0" width="11" height="48.0" fill="#f06262"/>
<rect x="1063.5" y="664.6" width="10" height="24.9" fill="none" stroke="#52c7ad" stroke-width="1"/>
<rect x="1079.5" y="660.6" width="10" height="28.9" fill="none" stroke="#52c7ad" stroke-width="1"/>
<rect x="1095.5" y="671.1" width="10" height="18.4" fill="none" stroke="#52c7ad" stroke-width="1"/>
<rect x="1111.5" y="676.0" width="10" height="13.5" fill="none" stroke="#52c7ad" stroke-width="1"/>
<rect x="1127.0" y="668.7" width="11" height="21.3" fill="#f06262"/>
<rect x="1143.5" y="660.0" width="10" height="29.5" fill="none" stroke="#52c7ad" stroke-width="1"/>
<rect x="1159.5" y="660.6" width="10" height="28.9" fill="none" stroke="#52c7ad" stroke-width="1"/>
<rect x="1175.5" y="659.2" width="10" height="30.3" fill="none" stroke="#52c7ad" stroke-width="1"/>
<rect x="1191.0" y="662.6" width="11" height="27.4" fill="#f06262"/>
<rect x="1207.0" y="669.0" width="11" height="21.0" fill="#f06262"/>
<rect x="1223.0" y="684.0" width="11" height="6.0" fill="#f06262"/>
<polyline points="-3.5,664.5 12.5,664.6 28.5,664.8 44.5,664.8 60.5,664.8 76.5,664.8 92.5,666.1 108.5,667.4 124.5,666.8 140.5,667.1 156.5,666.1 172.5,666.1 188.5,668.0 204.5,668.7 220.5,670.5 236.5,672.0 252.5,672.5 268.5,669.8 284.5,668.5 300.5,667.9 316.5,668.0 332.5,667.5 348.5,665.3 364.5,656.4 380.5,651.4 396.5,648.2 412.5,646.5 428.5,646.5 444.5,644.0 460.5,639.4 476.5,638.7 492.5,638.4 508.5,639.2 524.5,645.8 540.5,648.5 556.5,651.0 572.5,652.6 588.5,652.7 604.5,652.9 620.5,657.3 636.5,657.1 652.5,657.2 668.5,657.9 684.5,659.5 700.5,658.2 716.5,655.8 732.5,653.5 748.5,655.3 764.5,657.2 780.5,658.1 796.5,659.7 812.5,659.9 828.5,657.9 844.5,656.1 860.5,656.9 876.5,658.4 892.5,660.6 908.5,660.1 924.5,660.0 940.5,657.2 956.5,652.6 972.5,646.2 988.5,644.2 1004.5,640.0 1020.5,640.2 1036.5,638.5 1052.5,635.5 1068.5,635.5 1084.5,636.0 1100.5,638.8 1116.5,643.7 1132.5,650.4 1148.5,654.4 1164.5,659.6 1180.5,660.4 1196.5,662.2 1212.5,664.9 1228.5,666.9" fill="none" stroke="#e6e46c" stroke-width="1.2" stroke-opacity="0.92" stroke-linejoin="round"/>
<polyline points="-3.5,664.0 12.5,668.2 28.5,664.0 44.5,665.7 60.5,664.3 76.5,661.6 92.5,661.1 108.5,666.9 124.5,668.2 140.5,669.9 156.5,670.6 172.5,671.1 188.5,669.1 204.5,669.1 220.5,671.1 236.5,673.4 252.5,673.9 268.5,670.5 284.5,667.9 300.5,664.8 316.5,662.6 332.5,661.1 348.5,660.1 364.5,644.9 380.5,637.9 396.5,633.7 412.5,632.0 428.5,632.8 444.5,643.0 460.5,640.8 476.5,643.6 492.5,644.8 508.5,645.5 524.5,648.5 540.5,656.2 556.5,658.3 572.5,660.3 588.5,659.9 604.5,657.3 620.5,658.4 636.5,655.9 652.5,654.1 668.5,655.8 684.5,661.7 700.5,658.0 716.5,655.6 732.5,652.8 748.5,654.7 764.5,652.6 780.5,658.2 796.5,663.7 812.5,666.9 828.5,661.0 844.5,659.6 860.5,655.5 876.5,653.1 892.5,654.3 908.5,659.3 924.5,660.3 940.5,659.0 956.5,652.1 972.5,638.1 988.5,629.1 1004.5,619.7 1020.5,621.4 1036.5,624.9 1052.5,633.0 1068.5,641.9 1084.5,652.3 1100.5,656.2 1116.5,662.5 1132.5,667.8 1148.5,666.9 1164.5,666.9 1180.5,664.5 1196.5,661.9 1212.5,662.0 1228.5,666.9" fill="none" stroke="#dcdcf0" stroke-width="1.2" stroke-opacity="0.92" stroke-linejoin="round"/>
</g>
<g clip-path="url(#cd)">
<rect x="-8.5" y="796.7" width="10" height="3.5" fill="none" stroke="#e3868c" stroke-width="1"/>
<rect x="7.5" y="796.7" width="10" height="3.5" fill="none" stroke="#e3868c" stroke-width="1"/>
<rect x="23.0" y="796.2" width="11" height="2.0" fill="#f06262"/>
<rect x="39.0" y="793.9" width="11" height="2.0" fill="#20c48c"/>
<rect x="55.5" y="792.0" width="10" height="3.3" fill="none" stroke="#52c7ad" stroke-width="1"/>
<rect x="71.0" y="791.8" width="11" height="4.0" fill="#20c48c"/>
<rect x="87.5" y="792.0" width="10" height="3.3" fill="none" stroke="#52c7ad" stroke-width="1"/>
<rect x="103.0" y="791.8" width="11" height="4.0" fill="#20c48c"/>
<rect x="119.5" y="792.3" width="10" height="3.0" fill="none" stroke="#52c7ad" stroke-width="1"/>
<rect x="135.0" y="792.5" width="11" height="3.3" fill="#20c48c"/>
<rect x="151.0" y="792.5" width="11" height="3.3" fill="#20c48c"/>
<rect x="167.0" y="793.5" width="11" height="2.3" fill="#20c48c"/>
<rect x="183.0" y="794.0" width="11" height="2.0" fill="#20c48c"/>
<rect x="199.0" y="796.2" width="11" height="2.0" fill="#f06262"/>
<rect x="215.0" y="796.2" width="11" height="2.0" fill="#f06262"/>
<rect x="231.0" y="796.2" width="11" height="2.0" fill="#f06262"/>
<rect x="247.0" y="796.2" width="11" height="2.0" fill="#f06262"/>
<rect x="263.5" y="794.0" width="10" height="1.3" fill="none" stroke="#52c7ad" stroke-width="1"/>
<rect x="279.5" y="790.7" width="10" height="4.6" fill="none" stroke="#52c7ad" stroke-width="1"/>
<rect x="295.5" y="787.9" width="10" height="7.4" fill="none" stroke="#52c7ad" stroke-width="1"/>
<rect x="311.5" y="786.8" width="10" height="8.5" fill="none" stroke="#52c7ad" stroke-width="1"/>
<rect x="327.5" y="784.8" width="10" height="10.5" fill="none" stroke="#52c7ad" stroke-width="1"/>
<rect x="343.5" y="781.0" width="10" height="14.3" fill="none" stroke="#52c7ad" stroke-width="1"/>
<rect x="359.5" y="764.8" width="10" height="30.5" fill="none" stroke="#52c7ad" stroke-width="1"/>
<rect x="375.5" y="758.7" width="10" height="36.6" fill="none" stroke="#52c7ad" stroke-width="1"/>
<rect x="391.5" y="754.1" width="10" height="41.2" fill="none" stroke="#52c7ad" stroke-width="1"/>
<rect x="407.5" y="753.6" width="10" height="41.7" fill="none" stroke="#52c7ad" stroke-width="1"/>
<rect x="423.5" y="752.8" width="10" height="42.5" fill="none" stroke="#52c7ad" stroke-width="1"/>
<rect x="439.5" y="749.7" width="10" height="45.6" fill="none" stroke="#52c7ad" stroke-width="1"/>
<rect x="455.0" y="758.8" width="11" height="37.0" fill="#20c48c"/>
<rect x="471.0" y="766.0" width="11" height="29.8" fill="#20c48c"/>
<rect x="487.0" y="773.3" width="11" height="22.5" fill="#20c48c"/>
<rect x="503.5" y="773.8" width="10" height="21.5" fill="none" stroke="#52c7ad" stroke-width="1"/>
<rect x="519.0" y="774.0" width="11" height="21.8" fill="#20c48c"/>
<rect x="535.0" y="778.8" width="11" height="17.0" fill="#20c48c"/>
<rect x="551.0" y="781.9" width="11" height="13.9" fill="#20c48c"/>
<rect x="567.0" y="787.0" width="11" height="8.8" fill="#20c48c"/>
<rect x="583.0" y="788.0" width="11" height="7.8" fill="#20c48c"/>
<rect x="599.0" y="796.2" width="11" height="2.0" fill="#f06262"/>
<rect x="615.0" y="796.2" width="11" height="5.9" fill="#f06262"/>
<rect x="631.0" y="796.2" width="11" height="6.6" fill="#f06262"/>
<rect x="647.0" y="796.2" width="11" height="8.0" fill="#f06262"/>
<rect x="663.0" y="796.2" width="11" height="8.7" fill="#f06262"/>
<rect x="679.5" y="796.7" width="10" height="6.7" fill="none" stroke="#e3868c" stroke-width="1"/>
<rect x="695.5" y="796.7" width="10" height="2.6" fill="none" stroke="#e3868c" stroke-width="1"/>
<rect x="711.0" y="796.2" width="11" height="5.5" fill="#f06262"/>
<rect x="727.0" y="796.2" width="11" height="10.4" fill="#f06262"/>
<rect x="743.0" y="796.2" width="11" height="12.8" fill="#f06262"/>
<rect x="759.0" y="796.2" width="11" height="33.8" fill="#f06262"/>
<rect x="775.0" y="796.2" width="11" height="33.8" fill="#f06262"/>
<rect x="791.0" y="796.2" width="11" height="33.8" fill="#f06262"/>
<rect x="807.5" y="796.7" width="10" height="32.8" fill="none" stroke="#e3868c" stroke-width="1"/>
<rect x="823.0" y="796.2" width="11" height="33.8" fill="#f06262"/>
<rect x="839.0" y="796.2" width="11" height="33.8" fill="#f06262"/>
<rect x="855.0" y="796.2" width="11" height="33.8" fill="#f06262"/>
<rect x="871.5" y="796.7" width="10" height="32.8" fill="none" stroke="#e3868c" stroke-width="1"/>
<rect x="887.5" y="796.7" width="10" height="32.8" fill="none" stroke="#e3868c" stroke-width="1"/>
<rect x="903.5" y="796.7" width="10" height="15.9" fill="none" stroke="#e3868c" stroke-width="1"/>
<rect x="919.5" y="796.7" width="10" height="13.2" fill="none" stroke="#e3868c" stroke-width="1"/>
<rect x="935.5" y="796.7" width="10" height="7.0" fill="none" stroke="#e3868c" stroke-width="1"/>
<rect x="951.0" y="796.2" width="11" height="12.6" fill="#f06262"/>
<rect x="967.0" y="796.2" width="11" height="33.8" fill="#f06262"/>
<rect x="983.0" y="796.2" width="11" height="33.8" fill="#f06262"/>
<rect x="999.0" y="796.2" width="11" height="33.8" fill="#f06262"/>
<rect x="1015.0" y="796.2" width="11" height="33.8" fill="#f06262"/>
<rect x="1031.5" y="796.7" width="10" height="32.8" fill="none" stroke="#e3868c" stroke-width="1"/>
<rect x="1047.5" y="796.7" width="10" height="32.8" fill="none" stroke="#e3868c" stroke-width="1"/>
<rect x="1063.5" y="796.7" width="10" height="32.8" fill="none" stroke="#e3868c" stroke-width="1"/>
<rect x="1079.5" y="796.7" width="10" height="32.8" fill="none" stroke="#e3868c" stroke-width="1"/>
<rect x="1095.5" y="796.7" width="10" height="32.8" fill="none" stroke="#e3868c" stroke-width="1"/>
<rect x="1111.5" y="796.7" width="10" height="13.0" fill="none" stroke="#e3868c" stroke-width="1"/>
<rect x="1127.5" y="796.7" width="10" height="10.6" fill="none" stroke="#e3868c" stroke-width="1"/>
<rect x="1143.5" y="796.7" width="10" height="2.4" fill="none" stroke="#e3868c" stroke-width="1"/>
<rect x="1159.5" y="792.8" width="10" height="2.5" fill="none" stroke="#52c7ad" stroke-width="1"/>
<rect x="1175.5" y="785.5" width="10" height="9.8" fill="none" stroke="#52c7ad" stroke-width="1"/>
<rect x="1191.5" y="781.5" width="10" height="13.8" fill="none" stroke="#52c7ad" stroke-width="1"/>
<rect x="1207.5" y="779.6" width="10" height="15.7" fill="none" stroke="#52c7ad" stroke-width="1"/>
<rect x="1223.5" y="779.6" width="10" height="15.7" fill="none" stroke="#52c7ad" stroke-width="1"/>
<polyline points="0.0,802.8 68.7,800.0 137.0,798.7 240.0,798.7 308.7,796.6 349.9,792.5 377.4,785.6 418.6,772.6 453.0,760.9 480.0,752.7 525.0,745.1 589.5,739.3 618.4,740.7 710.0,745.1 755.0,749.2 812.6,757.5 864.8,767.1 908.8,775.3 940.0,778.0 956.6,779.5 1008.8,795.0 1082.0,815.0 1120.0,825.0 1180.0,825.0 1210.0,815.0 1228.5,813.3" fill="none" stroke="#e6e46c" stroke-width="1.2" stroke-opacity="1" stroke-linejoin="round"/>
<polyline points="0.0,804.9 68.7,800.0 137.0,798.7 240.0,798.7 274.3,796.6 301.8,792.5 322.4,790.4 347.0,785.6 367.7,771.2 399.3,756.1 425.4,747.2 444.7,738.2 492.0,739.6 523.6,734.4 559.3,734.8 589.5,735.5 618.4,743.0 667.8,747.2 695.3,746.5 710.0,747.6 755.0,756.1 812.6,767.1 830.5,774.0 892.3,784.3 908.8,783.6 926.6,784.3 940.0,782.2 956.6,785.0 972.0,797.8 1007.0,815.0 1040.0,840.0 1150.0,840.0 1177.3,815.0 1228.5,805.1" fill="none" stroke="#dcdcf0" stroke-width="1.2" stroke-opacity="1" stroke-linejoin="round"/>
</g>
<rect x="1738" y="241" width="9" height="20" fill="#f06262"/>
<line x1="1738" y1="251.5" x2="1744" y2="251.5" stroke="#ffffff" stroke-width="1"/>
<rect x="1738" y="674" width="9" height="20" fill="#e0a02c"/>
<line x1="1738" y1="684.5" x2="1744" y2="684.5" stroke="#ffe9a0" stroke-width="1"/>
<path d="M15.399999999999999,19.5L20.4,19.5L17.9,22Z" fill="#a3a6bb"/>
<path d="M51.1,19.5L56.1,19.5L53.6,22Z" fill="#a3a6bb"/>
<path d="M87.5,19.5L92.5,19.5L90,22Z" fill="#a3a6bb"/>
<path d="M123.2,19.5L128.2,19.5L125.7,22Z" fill="#a3a6bb"/>
<path d="M159.5,19.5L164.5,19.5L162,22Z" fill="#a3a6bb"/>
<path d="M195.3,19.5L200.3,19.5L197.8,22Z" fill="#a3a6bb"/>
<path d="M0,19.5L7.2,12.8" fill="none" stroke="#a3a6bb" stroke-width="1.2" stroke-linecap="round" stroke-linejoin="round"/><path d="M0,20L3.2,17.5L1.5,21.5Z" fill="#a3a6bb"/>
<path d="M31,22L41,12.2M34.3,24.7L44.6,15.3M35.2,15.5L39.5,21" fill="none" stroke="#a3a6bb" stroke-width="1.2" stroke-linecap="round" stroke-linejoin="round"/>
<circle cx="36" cy="17.2" r="1.3" fill="#a3a6bb"/><circle cx="38.3" cy="20" r="1.3" fill="#a3a6bb"/><circle cx="34.3" cy="24.7" r="1.1" fill="#a3a6bb"/>
<path d="M68.5,13V24.5H79.5Z" fill="none" stroke="#a3a6bb" stroke-width="1.2" stroke-linecap="round" stroke-linejoin="round"/>
<path d="M104,15.5H116M104,19.5H116M104,23.5H116M110,14V17M110,22V25" fill="none" stroke="#a3a6bb" stroke-width="1.2" stroke-linecap="round" stroke-linejoin="round"/>
<path d="M138,15L139.5,13.5V17M138.5,24L143,15.5L146.5,22.5L150.5,14" fill="none" stroke="#a3a6bb" stroke-width="1.2" stroke-linecap="round" stroke-linejoin="round"/>
<text x="149" y="25" font-family="Liberation Sans, sans-serif" font-size="7" fill="#a3a6bb">3</text>
<rect x="176" y="14" width="11.5" height="10.5" fill="none" stroke="#a3a6bb" stroke-width="1.2" stroke-linecap="round" stroke-linejoin="round"/><path d="M181.75,16.5V22M179,19.25H184.5" fill="none" stroke="#a3a6bb" stroke-width="1.2" stroke-linecap="round" stroke-linejoin="round"/>
<circle cx="187.5" cy="13.5" r="1.2" fill="#a3a6bb"/><circle cx="176" cy="24.5" r="1.2" fill="#a3a6bb"/>
<text x="209.5" y="23.8" font-family="Liberation Sans, sans-serif" font-size="13.5" fill="#a3a6bb">Aa</text>
<path d="M238.5,21L245.5,14Q246.5,13 247.5,14L250,16.5Q251,17.5 250,18.5L243,25.5Q242,26.5 241,25.5L238.5,23Q237.5,22 238.5,21Z M241.5,20.5L242.8,21.8M243.5,18.5L244.8,19.8M245.5,16.5L246.8,17.8" fill="none" stroke="#a3a6bb" stroke-width="1.2" stroke-linecap="round" stroke-linejoin="round"/>
<rect x="237.5" y="11.5" width="5" height="2.2" rx="1.1" fill="none" stroke="#a3a6bb" stroke-width="1.2" stroke-linecap="round" stroke-linejoin="round"/><rect x="245.5" y="23.3" width="5" height="2.2" rx="1.1" fill="none" stroke="#a3a6bb" stroke-width="1.2" stroke-linecap="round" stroke-linejoin="round"/><rect x="237.6" y="15.4" width="2.2" height="2.2" fill="none" stroke="#a3a6bb" stroke-width="1.2" stroke-linecap="round" stroke-linejoin="round"/>
<path d="M264.5,21L271.5,14Q272.5,13 273.5,14L276,16.5Q277,17.5 276,18.5L269,25.5Q268,26.5 267,25.5L264.5,23Q263.5,22 264.5,21Z M267.5,20.5L268.8,21.8M269.5,18.5L270.8,19.8M271.5,16.5L272.8,17.8" fill="none" stroke="#a3a6bb" stroke-width="1.2" stroke-linecap="round" stroke-linejoin="round"/>
<path d="M265,16.5Q266.5,12.5 270.5,12.3M276.5,20.5Q275.5,24.5 271,25.5" fill="none" stroke="#a3a6bb" stroke-width="1.2" stroke-linecap="round" stroke-linejoin="round"/>
<path d="M289.5,21L297.5,13L302,17.5L294,25.5Z M292.5,21L294,22.5M294.5,19L296,20.5M296.5,17L298,18.5" fill="none" stroke="#a3a6bb" stroke-width="1.2" stroke-linecap="round" stroke-linejoin="round"/>
<path d="M318.5,25L319.5,21.5L327,14L329.5,16.5L322,24Z M325.5,15.5L328,18" fill="none" stroke="#a3a6bb" stroke-width="1.2" stroke-linecap="round" stroke-linejoin="round"/>
<path d="M326.5,24.5Q328,21 329.5,24Q331,26 333.5,21.5" fill="none" stroke="#a3a6bb" stroke-width="1.2" stroke-linecap="round" stroke-linejoin="round"/>
<rect x="344.5" y="14.5" width="4" height="7.5" fill="none" stroke="#a3a6bb" stroke-width="1.2" stroke-linecap="round" stroke-linejoin="round"/><path d="M346.5,12.5V14.5M346.5,22V25" fill="none" stroke="#a3a6bb" stroke-width="1.2" stroke-linecap="round" stroke-linejoin="round"/>
<rect x="350" y="14.5" width="4" height="7.5" fill="none" stroke="#a3a6bb" stroke-width="1.2" stroke-linecap="round" stroke-linejoin="round"/><path d="M352,12.5V14.5M352,22V25" fill="none" stroke="#a3a6bb" stroke-width="1.2" stroke-linecap="round" stroke-linejoin="round"/>
<rect x="355.5" y="14.5" width="4" height="7.5" fill="none" stroke="#a3a6bb" stroke-width="1.2" stroke-linecap="round" stroke-linejoin="round"/><path d="M357.5,12.5V14.5M357.5,22V25" fill="none" stroke="#a3a6bb" stroke-width="1.2" stroke-linecap="round" stroke-linejoin="round"/>
<rect x="373.5" y="17.5" width="9.5" height="7.5" fill="none" stroke="#a3a6bb" stroke-width="1.2" stroke-linecap="round" stroke-linejoin="round"/><path d="M376,17.5V14.5Q376,12.5 378,12.5Q380,12.5 380,14" fill="none" stroke="#a3a6bb" stroke-width="1.2" stroke-linecap="round" stroke-linejoin="round"/>
<path d="M378.2,20V22" fill="none" stroke="#a3a6bb" stroke-width="1.2" stroke-linecap="round" stroke-linejoin="round"/>
<path d="M398,12.5H407M400,14.5H409.5V25L404.75,21.5L400,25Z M398,12.5V23" fill="none" stroke="#a3a6bb" stroke-width="1.2" stroke-linecap="round" stroke-linejoin="round"/>
<path d="M430,13H422.5V25H429M425,17H430M425,20H428M432,13H437.5V18" fill="none" stroke="#a3a6bb" stroke-width="1.2" stroke-linecap="round" stroke-linejoin="round"/>
<path d="M431,25L437,19.5L438.5,21L432.5,26Z" fill="#a3a6bb"/>
<path d="M449,14.5H462M452.5,14.5V12.5H458.5V14.5M450.5,14.5V25H460.5V14.5M454,17.5V22M457,17.5V22" fill="none" stroke="#a3a6bb" stroke-width="1.2" stroke-linecap="round" stroke-linejoin="round"/>
<text x="-21.5" y="50" font-family="Liberation Sans, sans-serif" font-size="12" fill="#c6c9d8" stroke="#c6c9d8" stroke-width="0.45" text-anchor="start" textLength="90.5" lengthAdjust="spacingAndGlyphs" >2020-09-19 08:00</text>
<path transform="translate(74.5,39.5) scale(1.0)" d="M1.5,1.5H10.5M0.5,5.5H11.5M4,1.5V6Q4,9.5 1,11.5M8.5,1.5V11.5" fill="none" stroke="#c6c9d8" stroke-width="1.05"/>
<text x="87.89999999999999" y="50" font-family="Liberation Sans, sans-serif" font-size="12" fill="#c6c9d8" stroke="#c6c9d8" stroke-width="0.45" text-anchor="start" >:</text>
<text x="91.3" y="50" font-family="Liberation Sans, sans-serif" font-size="12" fill="#d26868" stroke="#d26868" stroke-width="0" text-anchor="start" textLength="49.0" lengthAdjust="spacingAndGlyphs" >10934.26</text>
<path transform="translate(146.6,39.5) scale(1.0)" d="M6,0V1.5M0.5,1.5H11.5M3.5,3.5H8.5V5.5H3.5ZM1.5,7V11.5M1.5,7H10.5V11.5M4,8.5H8V10.5H4Z" fill="none" stroke="#c6c9d8" stroke-width="1.05"/>
<text x="159.29999999999998" y="50" font-family="Liberation Sans, sans-serif" font-size="12" fill="#c6c9d8" stroke="#c6c9d8" stroke-width="0.45" text-anchor="start" >:</text>
<text x="162.7" y="50" font-family="Liberation Sans, sans-serif" font-size="12" fill="#d26868" stroke="#d26868" stroke-width="0" text-anchor="start" textLength="49.0" lengthAdjust="spacingAndGlyphs" >10979.78</text>
<path transform="translate(218,39.5) scale(1.0)" d="M3,0.5Q2,3.5 0.5,5.5M2.3,3V11.5M4.5,2L10.5,1M5.5,1.5V10.5L11,9M5.5,5.5H11.5M7.5,2.5Q8.5,8.5 11.5,11.5" fill="none" stroke="#c6c9d8" stroke-width="1.05"/>
<text x="230.6" y="50" font-family="Liberation Sans, sans-serif" font-size="12" fill="#c6c9d8" stroke="#c6c9d8" stroke-width="0.45" text-anchor="start" >:</text>
<text x="234" y="50" font-family="Liberation Sans, sans-serif" font-size="12" fill="#d26868" stroke="#d26868" stroke-width="0" text-anchor="start" textLength="49.0" lengthAdjust="spacingAndGlyphs" >10900.00</text>
<path transform="translate(288.4,39.5) scale(1.0)" d="M1,2V8.5L4.5,7M4.5,0.5V11.5M7.5,0.5Q7,3 5.5,5M6.5,3H11.5M10.5,3Q9,8.5 5.5,11.5M7,5.5Q9,9.5 11.5,11.5" fill="none" stroke="#c6c9d8" stroke-width="1.05"/>
<text x="301.1" y="50" font-family="Liberation Sans, sans-serif" font-size="12" fill="#c6c9d8" stroke="#c6c9d8" stroke-width="0.45" text-anchor="start" >:</text>
<text x="304.5" y="50" font-family="Liberation Sans, sans-serif" font-size="12" fill="#d26868" stroke="#d26868" stroke-width="0" text-anchor="start" textLength="49.0" lengthAdjust="spacingAndGlyphs" >10906.93</text>
<path transform="translate(359.7,39.5) scale(1.0)" d="M1,1L2,2M0.5,4.5L1.5,5.5M0.5,11L2,7M3,1.5H6V4.5H3.5V7H6Q6,11 4.5,11M8,0.5V11.5M11,1L8.5,4M6.5,6H11.5M9,6L11.5,11.5" fill="none" stroke="#c6c9d8" stroke-width="1.05"/>
<path transform="translate(372.7,39.5) scale(1.0)" d="M0.5,3H4.5V9M2.5,0.5V11.5M5.5,1H11.5M6.5,2.5H10.5V4.5H6.5ZM5.5,6H11.5V11.5H5.5ZM5.5,8.5H11.5M8.5,6V11.5" fill="none" stroke="#c6c9d8" stroke-width="1.05"/>
<text x="385.2" y="50" font-family="Liberation Sans, sans-serif" font-size="12" fill="#c6c9d8" stroke="#c6c9d8" stroke-width="0.45" text-anchor="start" >:</text>
<text x="388.6" y="50" font-family="Liberation Sans, sans-serif" font-size="12" fill="#d26868" stroke="#d26868" stroke-width="0" text-anchor="start" textLength="75.0" lengthAdjust="spacingAndGlyphs" >-0.25%(-27.33)</text>
<path transform="translate(469.5,39.5) scale(1.0)" d="M0.5,3.5H4.5M2.5,0.5V11L1.5,10.5M0.5,8L4.5,6M5.5,1.5H11.5M5.5,1.5V8Q5.5,10 4.5,11.5M7,4H11M7,6.5H11.5M7.5,6.5V11.5L9,10.5M9,6.5Q10,9.5 11.5,11.5" fill="none" stroke="#c6c9d8" stroke-width="1.05"/>
<path transform="translate(482.5,39.5) scale(1.0)" d="M0.5,3H4.5V9M2.5,0.5V11.5M5.5,1H11.5M6.5,2.5H10.5V4.5H6.5ZM5.5,6H11.5V11.5H5.5ZM5.5,8.5H11.5M8.5,6V11.5" fill="none" stroke="#c6c9d8" stroke-width="1.05"/>
<text x="495" y="50" font-family="Liberation Sans, sans-serif" font-size="12" fill="#c6c9d8" stroke="#c6c9d8" stroke-width="0.45" text-anchor="start" >:</text>
<text x="497" y="50" font-family="Liberation Sans, sans-serif" font-size="12" fill="#d26868" stroke="#d26868" stroke-width="0" text-anchor="start" textLength="32.5" lengthAdjust="spacingAndGlyphs" >0.73%</text>
<rect x="3" y="57" width="14.5" height="14" fill="#8e91a8"/><rect x="9.25" y="59.0" width="2" height="10" transform="rotate(0 10.25 64.0)" fill="#1a1e2e"/><rect x="9.25" y="59.0" width="2" height="10" transform="rotate(45 10.25 64.0)" fill="#1a1e2e"/><rect x="9.25" y="59.0" width="2" height="10" transform="rotate(90 10.25 64.0)" fill="#1a1e2e"/><rect x="9.25" y="59.0" width="2" height="10" transform="rotate(135 10.25 64.0)" fill="#1a1e2e"/><circle cx="10.25" cy="64.0" r="3.6" fill="#1a1e2e"/><circle cx="10.25" cy="64.0" r="1.5" fill="#8e91a8"/>
<rect x="22" y="57" width="13.3" height="14" fill="#8e91a8"/><path d="M25,60L32.3,68M32.3,60L25,68" stroke="#1a1e2e" stroke-width="1.6"/>
<text x="43" y="67.5" font-family="Liberation Sans, sans-serif" font-size="12" fill="#c6c9d8" stroke="#c6c9d8" stroke-width="0.45" text-anchor="start" textLength="85.5" lengthAdjust="spacingAndGlyphs" >MA(5):10904.56</text>
<text x="135.4" y="67.5" font-family="Liberation Sans, sans-serif" font-size="12" fill="#e2e070" stroke="#e2e070" stroke-width="0.45" text-anchor="start" textLength="92.5" lengthAdjust="spacingAndGlyphs" >MA(10):10668.64</text>
<text x="234.8" y="67.5" font-family="Liberation Sans, sans-serif" font-size="12" fill="#b452b0" stroke="#b452b0" stroke-width="0.45" text-anchor="start" textLength="92.5" lengthAdjust="spacingAndGlyphs" >MA(30):10959.67</text>
<text x="334" y="67.5" font-family="Liberation Sans, sans-serif" font-size="12" fill="#3c9bd6" stroke="#3c9bd6" stroke-width="0.45" text-anchor="start" textLength="92.5" lengthAdjust="spacingAndGlyphs" >MA(60):11105.92</text>
<text x="639.6" y="66.9" font-family="Liberation Sans, sans-serif" font-size="11" fill="#d4d6e4" stroke="#d4d6e4" stroke-width="0.45" text-anchor="start" textLength="45.5" lengthAdjust="spacingAndGlyphs" >12448.39</text>
<path d="M689,64.5H696.5M693.5,62L696.5,64.5L693.5,67" fill="none" stroke="#d4d6e4" stroke-width="1"/>
<path d="M23.5,538.5H16M19,536L16,538.5L19,541" fill="none" stroke="#d4d6e4" stroke-width="1"/>
<text x="27.5" y="540.8" font-family="Liberation Sans, sans-serif" font-size="11" fill="#d4d6e4" stroke="#d4d6e4" stroke-width="0.45" text-anchor="start" textLength="24.3" lengthAdjust="spacingAndGlyphs" >8909</text>
<text x="-22.6" y="579" font-family="Liberation Sans, sans-serif" font-size="12" fill="#c6c9d8" stroke="#c6c9d8" stroke-width="0.45" text-anchor="start" textLength="47.0" lengthAdjust="spacingAndGlyphs" >VOLUME</text>
<rect x="29" y="568" width="14" height="13" fill="#8e91a8"/><rect x="35.0" y="569.5" width="2" height="10" transform="rotate(0 36.0 574.5)" fill="#1a1e2e"/><rect x="35.0" y="569.5" width="2" height="10" transform="rotate(45 36.0 574.5)" fill="#1a1e2e"/><rect x="35.0" y="569.5" width="2" height="10" transform="rotate(90 36.0 574.5)" fill="#1a1e2e"/><rect x="35.0" y="569.5" width="2" height="10" transform="rotate(135 36.0 574.5)" fill="#1a1e2e"/><circle cx="36.0" cy="574.5" r="3.6" fill="#1a1e2e"/><circle cx="36.0" cy="574.5" r="1.5" fill="#8e91a8"/>
<rect x="48" y="568" width="13" height="13" fill="#8e91a8"/><path d="M51,571L58,578M58,571L51,578" stroke="#1a1e2e" stroke-width="1.6"/>
<text x="68.5" y="579" font-family="Liberation Sans, sans-serif" font-size="12" fill="#c6c9d8" stroke="#c6c9d8" stroke-width="0.45" text-anchor="start" textLength="109.0" lengthAdjust="spacingAndGlyphs" >VOLUME:4,988.9698</text>
<text x="183.5" y="579" font-family="Liberation Sans, sans-serif" font-size="12" fill="#c6c9d8" stroke="#c6c9d8" stroke-width="0.45" text-anchor="start" textLength="102.0" lengthAdjust="spacingAndGlyphs" >MA(5):24,451.0719</text>
<text x="291" y="579" font-family="Liberation Sans, sans-serif" font-size="12" fill="#e2e070" stroke="#e2e070" stroke-width="0.45" text-anchor="start" textLength="110.0" lengthAdjust="spacingAndGlyphs" >MA(10):24,609.9372</text>
<text x="8.5" y="709" font-family="Liberation Sans, sans-serif" font-size="12" fill="#9599ab" stroke="#9599ab" stroke-width="0.45" text-anchor="end" >MA</text>
<text x="18.4" y="709" font-family="Liberation Sans, sans-serif" font-size="12" fill="#4b78cf" stroke="#4b78cf" stroke-width="0.45" text-anchor="start" textLength="47.7" lengthAdjust="spacingAndGlyphs" >VOLUME</text>
<text x="75.4" y="709" font-family="Liberation Sans, sans-serif" font-size="12" fill="#5d6175" stroke="#5d6175" stroke-width="0.45" text-anchor="start" textLength="34.2" lengthAdjust="spacingAndGlyphs" >MACD</text>
<text x="119.4" y="709" font-family="Liberation Sans, sans-serif" font-size="12" fill="#9599ab" stroke="#9599ab" stroke-width="0.45" text-anchor="start" textLength="21.2" lengthAdjust="spacingAndGlyphs" >DMI</text>
<text x="150.9" y="709" font-family="Liberation Sans, sans-serif" font-size="12" fill="#9599ab" stroke="#9599ab" stroke-width="0.45" text-anchor="start" textLength="27.3" lengthAdjust="spacingAndGlyphs" >DMA</text>
<text x="187.1" y="709" font-family="Liberation Sans, sans-serif" font-size="12" fill="#9599ab" stroke="#9599ab" stroke-width="0.45" text-anchor="start" textLength="26.3" lengthAdjust="spacingAndGlyphs" >TRIX</text>
<text x="222.4" y="709" font-family="Liberation Sans, sans-serif" font-size="12" fill="#9599ab" stroke="#9599ab" stroke-width="0.45" text-anchor="start" textLength="31.2" lengthAdjust="spacingAndGlyphs" >BRAR</text>
<text x="262.4" y="709" font-family="Liberation Sans, sans-serif" font-size="12" fill="#9599ab" stroke="#9599ab" stroke-width="0.45" text-anchor="start" textLength="16.5" lengthAdjust="spacingAndGlyphs" >VR</text>
<text x="287.4" y="709" font-family="Liberation Sans, sans-serif" font-size="12" fill="#9599ab" stroke="#9599ab" stroke-width="0.45" text-anchor="start" textLength="24.2" lengthAdjust="spacingAndGlyphs" >OBV</text>
<text x="320.4" y="709" font-family="Liberation Sans, sans-serif" font-size="12" fill="#9599ab" stroke="#9599ab" stroke-width="0.45" text-anchor="start" textLength="26.5" lengthAdjust="spacingAndGlyphs" >EMV</text>
<text x="355.79999999999995" y="709" font-family="Liberation Sans, sans-serif" font-size="12" fill="#9599ab" stroke="#9599ab" stroke-width="0.45" text-anchor="start" textLength="18.3" lengthAdjust="spacingAndGlyphs" >RSI</text>
<text x="383.0" y="709" font-family="Liberation Sans, sans-serif" font-size="12" fill="#9599ab" stroke="#9599ab" stroke-width="0.45" text-anchor="start" textLength="20.6" lengthAdjust="spacingAndGlyphs" >WR</text>
<text x="411.2" y="709" font-family="Liberation Sans, sans-serif" font-size="12" fill="#9599ab" stroke="#9599ab" stroke-width="0.45" text-anchor="start" textLength="23.9" lengthAdjust="spacingAndGlyphs" >SAR</text>
<text x="444.29999999999995" y="709" font-family="Liberation Sans, sans-serif" font-size="12" fill="#9599ab" stroke="#9599ab" stroke-width="0.45" text-anchor="start" textLength="22.5" lengthAdjust="spacingAndGlyphs" >KDJ</text>
<text x="476.29999999999995" y="709" font-family="Liberation Sans, sans-serif" font-size="12" fill="#9599ab" stroke="#9599ab" stroke-width="0.45" text-anchor="start" textLength="22.9" lengthAdjust="spacingAndGlyphs" >ROC</text>
<text x="509.4" y="709" font-family="Liberation Sans, sans-serif" font-size="12" fill="#9599ab" stroke="#9599ab" stroke-width="0.45" text-anchor="start" textLength="28.2" lengthAdjust="spacingAndGlyphs" >MTM</text>
<text x="547.9" y="709" font-family="Liberation Sans, sans-serif" font-size="12" fill="#9599ab" stroke="#9599ab" stroke-width="0.45" text-anchor="start" textLength="28.0" lengthAdjust="spacingAndGlyphs" >BOLL</text>
<text x="586.1999999999999" y="709" font-family="Liberation Sans, sans-serif" font-size="12" fill="#9599ab" stroke="#9599ab" stroke-width="0.45" text-anchor="start" textLength="21.7" lengthAdjust="spacingAndGlyphs" >PSY</text>
<text x="618.1999999999999" y="709" font-family="Liberation Sans, sans-serif" font-size="12" fill="#9599ab" stroke="#9599ab" stroke-width="0.45" text-anchor="start" textLength="48.1" lengthAdjust="spacingAndGlyphs" >StochRSI</text>
<text x="676.1" y="709" font-family="Liberation Sans, sans-serif" font-size="12" fill="#9599ab" stroke="#9599ab" stroke-width="0.45" text-anchor="start" textLength="21.1" lengthAdjust="spacingAndGlyphs" >SMI</text>
<text x="707.4" y="709" font-family="Liberation Sans, sans-serif" font-size="12" fill="#9599ab" stroke="#9599ab" stroke-width="0.45" text-anchor="start" textLength="19.5" lengthAdjust="spacingAndGlyphs" >CCI</text>
<text x="736.0" y="709" font-family="Liberation Sans, sans-serif" font-size="12" fill="#9599ab" stroke="#9599ab" stroke-width="0.45" text-anchor="start" textLength="20.6" lengthAdjust="spacingAndGlyphs" >MFI</text>
<text x="766.4" y="709" font-family="Liberation Sans, sans-serif" font-size="12" fill="#9599ab" stroke="#9599ab" stroke-width="0.45" text-anchor="start" textLength="22.2" lengthAdjust="spacingAndGlyphs" >ATR</text>
<text x="797.8" y="709" font-family="Liberation Sans, sans-serif" font-size="12" fill="#9599ab" stroke="#9599ab" stroke-width="0.45" text-anchor="start" textLength="26.4" lengthAdjust="spacingAndGlyphs" >BBW</text>
<text x="833.3" y="709" font-family="Liberation Sans, sans-serif" font-size="12" fill="#9599ab" stroke="#9599ab" stroke-width="0.45" text-anchor="start" textLength="30.1" lengthAdjust="spacingAndGlyphs" >SKDJ</text>
<text x="872.8" y="709" font-family="Liberation Sans, sans-serif" font-size="12" fill="#9599ab" stroke="#9599ab" stroke-width="0.45" text-anchor="start" textLength="26.4" lengthAdjust="spacingAndGlyphs" >BIAS</text>
<text x="908.8" y="709" font-family="Liberation Sans, sans-serif" font-size="12" fill="#9599ab" stroke="#9599ab" stroke-width="0.45" text-anchor="start" textLength="23.8" lengthAdjust="spacingAndGlyphs" >DPO</text>
<text x="942.4" y="709" font-family="Liberation Sans, sans-serif" font-size="12" fill="#9599ab" stroke="#9599ab" stroke-width="0.45" text-anchor="start" textLength="16.7" lengthAdjust="spacingAndGlyphs" >AO</text>
<text x="968.4" y="709" font-family="Liberation Sans, sans-serif" font-size="12" fill="#9599ab" stroke="#9599ab" stroke-width="0.45" text-anchor="start" textLength="44.2" lengthAdjust="spacingAndGlyphs" >Position</text>
<text x="1022.1999999999999" y="709" font-family="Liberation Sans, sans-serif" font-size="12" fill="#9599ab" stroke="#9599ab" stroke-width="0.45" text-anchor="start" textLength="49.0" lengthAdjust="spacingAndGlyphs" >Fundflow</text>
<text x="1081.4" y="709" font-family="Liberation Sans, sans-serif" font-size="12" fill="#9599ab" stroke="#9599ab" stroke-width="0.45" text-anchor="start" textLength="56.1" lengthAdjust="spacingAndGlyphs" >AI-NetVOL</text>
<text x="1146.9" y="709" font-family="Liberation Sans, sans-serif" font-size="12" fill="#9599ab" stroke="#9599ab" stroke-width="0.45" text-anchor="start" textLength="28.9" lengthAdjust="spacingAndGlyphs" >LSUR</text>
<text x="1185.9" y="709" font-family="Liberation Sans, sans-serif" font-size="12" fill="#9599ab" stroke="#9599ab" stroke-width="0.45" text-anchor="start" textLength="32.7" lengthAdjust="spacingAndGlyphs" >BASIS</text>
<text x="1229.0" y="709" font-family="Liberation Sans, sans-serif" font-size="12" fill="#9599ab" stroke="#9599ab" stroke-width="0.45" text-anchor="start" textLength="47.5" lengthAdjust="spacingAndGlyphs" >TVolume</text>
<text x="1286.2" y="709" font-family="Liberation Sans, sans-serif" font-size="12" fill="#9599ab" stroke="#9599ab" stroke-width="0.45" text-anchor="start" textLength="29.6" lengthAdjust="spacingAndGlyphs" >FTBS</text>
<text x="1324.7" y="709" font-family="Liberation Sans, sans-serif" font-size="12" fill="#9599ab" stroke="#9599ab" stroke-width="0.45" text-anchor="start" textLength="24.9" lengthAdjust="spacingAndGlyphs" >TTSI</text>
<text x="1359.2" y="709" font-family="Liberation Sans, sans-serif" font-size="12" fill="#9599ab" stroke="#9599ab" stroke-width="0.45" text-anchor="start" textLength="33.9" lengthAdjust="spacingAndGlyphs" >TTMU</text>
<text x="1402.0" y="709" font-family="Liberation Sans, sans-serif" font-size="12" fill="#9599ab" stroke="#9599ab" stroke-width="0.45" text-anchor="start" textLength="32.7" lengthAdjust="spacingAndGlyphs" >AI-BSI</text>
<text x="1444.1000000000001" y="709" font-family="Liberation Sans, sans-serif" font-size="12" fill="#9599ab" stroke="#9599ab" stroke-width="0.45" text-anchor="start" textLength="25.4" lengthAdjust="spacingAndGlyphs" >MLR</text>
<text x="1478.4" y="709" font-family="Liberation Sans, sans-serif" font-size="12" fill="#9599ab" stroke="#9599ab" stroke-width="0.45" text-anchor="start" textLength="30.6" lengthAdjust="spacingAndGlyphs" >AI-PD</text>
<text x="1517.9" y="709" font-family="Liberation Sans, sans-serif" font-size="12" fill="#9599ab" stroke="#9599ab" stroke-width="0.45" text-anchor="start" textLength="33.2" lengthAdjust="spacingAndGlyphs" >AI-FDI</text>
<text x="1560.7" y="709" font-family="Liberation Sans, sans-serif" font-size="12" fill="#9599ab" stroke="#9599ab" stroke-width="0.45" text-anchor="start" textLength="24.6" lengthAdjust="spacingAndGlyphs" >AI-LI</text>
<text x="1594.7" y="709" font-family="Liberation Sans, sans-serif" font-size="12" fill="#9599ab" stroke="#9599ab" stroke-width="0.45" text-anchor="start" textLength="15.1" lengthAdjust="spacingAndGlyphs" >FR</text>
<text x="1619.4" y="709" font-family="Liberation Sans, sans-serif" font-size="12" fill="#9599ab" stroke="#9599ab" stroke-width="0.45" text-anchor="start" textLength="36.5" lengthAdjust="spacingAndGlyphs" >AI-BST</text>
<text x="-21.8" y="728" font-family="Liberation Sans, sans-serif" font-size="12" fill="#c6c9d8" stroke="#c6c9d8" stroke-width="0.45" text-anchor="start" textLength="79.5" lengthAdjust="spacingAndGlyphs" >MACD(12,26,9)</text>
<rect x="62.5" y="717" width="14" height="13" fill="#8e91a8"/><rect x="68.5" y="718.5" width="2" height="10" transform="rotate(0 69.5 723.5)" fill="#1a1e2e"/><rect x="68.5" y="718.5" width="2" height="10" transform="rotate(45 69.5 723.5)" fill="#1a1e2e"/><rect x="68.5" y="718.5" width="2" height="10" transform="rotate(90 69.5 723.5)" fill="#1a1e2e"/><rect x="68.5" y="718.5" width="2" height="10" transform="rotate(135 69.5 723.5)" fill="#1a1e2e"/><circle cx="69.5" cy="723.5" r="3.6" fill="#1a1e2e"/><circle cx="69.5" cy="723.5" r="1.5" fill="#8e91a8"/>
<rect x="82" y="717" width="13" height="13" fill="#8e91a8"/><path d="M85,720L92,727M92,720L85,727" stroke="#1a1e2e" stroke-width="1.6"/>
<text x="101.5" y="728" font-family="Liberation Sans, sans-serif" font-size="12" fill="#c6c9d8" stroke="#c6c9d8" stroke-width="0.45" text-anchor="start" textLength="54.5" lengthAdjust="spacingAndGlyphs" >DIF:-86.06</text>
<text x="161" y="728" font-family="Liberation Sans, sans-serif" font-size="12" fill="#e2e070" stroke="#e2e070" stroke-width="0.45" text-anchor="start" textLength="66.3" lengthAdjust="spacingAndGlyphs" >DEA:-168.65</text>
<text x="233.8" y="728" font-family="Liberation Sans, sans-serif" font-size="12" fill="#2fae88" stroke="#2fae88" stroke-width="0.45" text-anchor="start" textLength="73.5" lengthAdjust="spacingAndGlyphs" >MACD:165.19</text>
</svg>

</body></html>
